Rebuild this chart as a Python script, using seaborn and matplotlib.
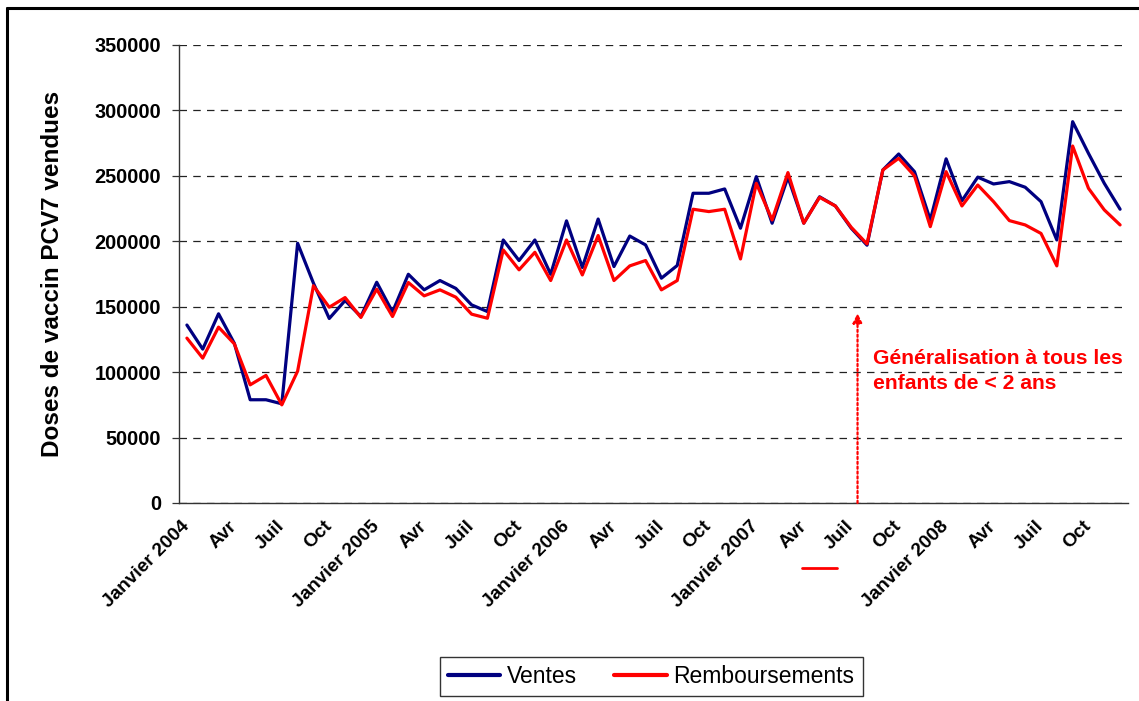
import matplotlib
matplotlib.use("Agg")
import matplotlib.pyplot as plt
from matplotlib.lines import Line2D
import seaborn as sns
import pandas as pd
import numpy as np

# ---- data ----
years = [2004, 2005, 2006, 2007, 2008]
month_labels = ["Janvier {y}", "", "", "Avr", "", "", "Juil", "", "", "Oct", "", ""]
ventes = [136000, 117600, 144600, 122000, 78900, 78900, 75800, 198500, 168000, 141000, 154700, 142500,
          168700, 146000, 174800, 162900, 170000, 164000, 151400, 146300, 201000, 185300, 201000, 174800,
          215600, 180000, 217000, 180700, 204000, 197200, 171800, 181500, 236700, 236700, 240000, 210000,
          249400, 213800, 249000, 213800, 234000, 227000, 210000, 197000, 254500, 266700, 253200, 216300,
          263000, 231000, 249000, 243800, 245600, 241300, 230300, 201000, 291400, 267200, 244300, 224500]
remboursements = [126000, 110700, 134400, 121600, 90300, 97500, 75000, 100800, 166000, 149600, 157000, 141800,
                  163400, 142500, 168500, 158300, 162900, 157300, 144300, 141200, 193400, 178200, 191600, 170000,
                  201000, 174300, 204400, 170000, 181200, 185300, 162900, 170000, 224500, 222700, 224500, 186500,
                  244300, 216300, 252500, 213800, 233600, 227000, 210700, 198000, 254500, 263400, 250000, 211200,
                  253200, 227000, 243000, 230300, 215800, 212500, 206000, 181200, 272800, 240500, 224000, 212500]
series_names = ["Ventes", "Remboursements"]
annotation_text = "Généralisation à tous les\nenfants de < 2 ans"
ylabel_text = "Doses de vaccin PCV7 vendues"
arrow_x = 42.4
arrow_top = 145000

tick_labels = []
for y in years:
    for m in month_labels:
        tick_labels.append(m.format(y=y) if m else "")

n = len(ventes)
x = np.arange(n)
df = pd.DataFrame({
    "x": np.concatenate([x, x]),
    "value": ventes + remboursements,
    "serie": [series_names[0]] * n + [series_names[1]] * n,
})

sns.set_style("white")
plt.rcParams["font.family"] = ["Liberation Sans", "DejaVu Sans"]
plt.rcParams["text.color"] = "black"
plt.rcParams["axes.labelcolor"] = "black"
plt.rcParams["xtick.color"] = "black"
plt.rcParams["ytick.color"] = "black"

fig = plt.figure(figsize=(11.39, 7.01), dpi=100)
ax = fig.add_axes([179 / 1139, 1 - 503 / 701, (1128 - 179) / 1139, (503 - 45) / 701])

sns.lineplot(data=df, x="x", y="value", hue="serie",
             palette={series_names[0]: "#000080", series_names[1]: "#FF0000"},
             linewidth=2.3, ax=ax, legend=False, zorder=3)

ax.set_xlim(-0.5, n - 0.5)
ax.set_ylim(0, 350000)
ax.set_yticks(np.arange(0, 350001, 50000))
ax.set_yticklabels([str(v) for v in range(0, 350001, 50000)], fontsize=14.3, fontweight="bold")
ax.yaxis.grid(True, color="#222222", linestyle=(0, (6, 5)), linewidth=0.9)
ax.set_axisbelow(True)

lab_pos = [i for i, t in enumerate(tick_labels) if t]
ax.set_xticks(lab_pos)
ax.set_xticklabels([tick_labels[i] for i in lab_pos], rotation=45, ha="right", va="center",
                   rotation_mode="anchor", fontsize=13.8, fontweight="bold")
ax.tick_params(axis="x", which="major", length=0, pad=15, labelcolor="black")
ax.set_xticks(np.arange(-0.5, n, 1), minor=True)
ax.tick_params(axis="x", which="minor", length=6, width=0.9, color="#333333", direction="out")
ax.tick_params(axis="y", length=5, width=0.9, color="#333333", direction="out", left=True, pad=8,
               labelcolor="black")

for s in ["top", "right"]:
    ax.spines[s].set_visible(False)
for s in ["left", "bottom"]:
    ax.spines[s].set_color("#333333")
    ax.spines[s].set_linewidth(1.0)

ax.set_xlabel("")
ax.set_ylabel(ylabel_text, fontsize=17.5, fontweight="bold", labelpad=22, color="black")

# arrow + annotation
ax.annotate("", xy=(arrow_x, arrow_top), xytext=(arrow_x, 0),
            arrowprops=dict(arrowstyle="-|>", color="#FF0000", linestyle=(0, (1, 1.2)),
                            linewidth=1.6, mutation_scale=14, shrinkA=0, shrinkB=0))
ax.text(43.4, 118000, annotation_text, color="#FF0000", fontsize=15.2, fontweight="bold",
        ha="left", va="top", linespacing=1.45)

# legend
handles = [Line2D([0], [0], color="#000080", lw=3), Line2D([0], [0], color="#FF0000", lw=3)]
leg = fig.legend(handles, series_names, loc="center", bbox_to_anchor=(651 / 1139, 1 - 676.5 / 701),
                 ncol=2, frameon=True, fancybox=False, fontsize=16.5, handlelength=2.3,
                 columnspacing=1.6, handletextpad=0.3, borderpad=0.35, edgecolor="black")
leg.get_frame().set_linewidth(1.0)
for t in leg.get_texts():
    t.set_color("black")

# figure frame (top and left) and stray red mark
fig.add_artist(Line2D([7 / 1139, 1.0], [1 - 8 / 701, 1 - 8 / 701], color="black", lw=2.2))
fig.add_artist(Line2D([7 / 1139, 7 / 1139], [0, 1 - 8 / 701], color="black", lw=2.2))
fig.add_artist(Line2D([802 / 1139, 837 / 1139], [1 - 568 / 701, 1 - 568 / 701], color="#FF0000", lw=2))

fig.savefig("out.png", dpi=100)
